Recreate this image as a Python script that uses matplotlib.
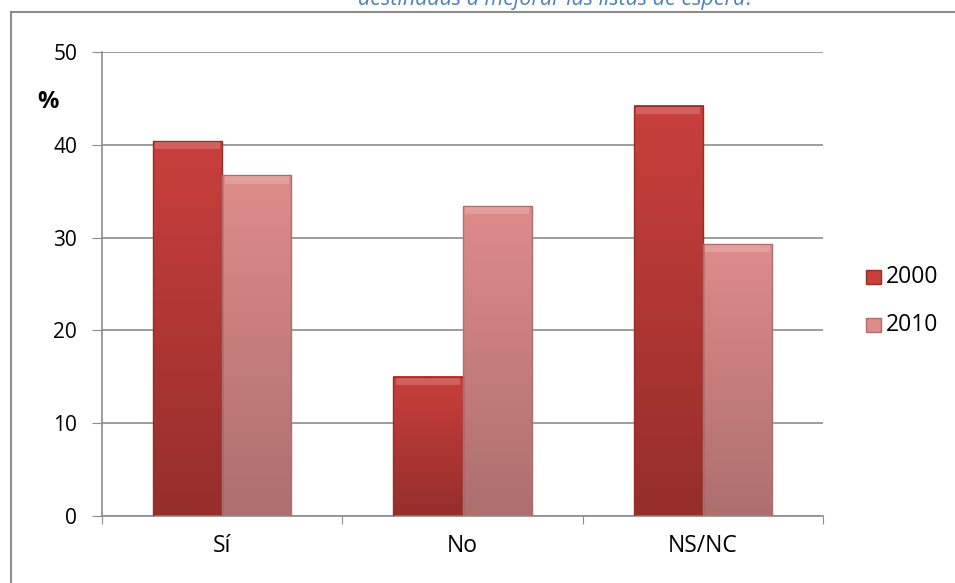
import numpy as np
import matplotlib.pyplot as plt
from matplotlib.patches import Rectangle
from matplotlib.colors import LinearSegmentedColormap

categories = ["Sí", "No", "NS/NC"]
years = ["2000", "2010"]
values_2000 = [40.4, 15.0, 44.2]
values_2010 = [36.7, 33.4, 29.3]

W, H = 955, 583
fig = plt.figure(figsize=(W / 100, H / 100), dpi=100)
plt.rcParams['font.family'] = ['Open Sans', 'DejaVu Sans']

# outer chart frame (cut at right and bottom like the screenshot)
fig.patches.append(Rectangle((11 / W, -0.1), 1.1, 1 - 12 / H + 0.1, transform=fig.transFigure,
                             fill=False, edgecolor="#8c8c8c", linewidth=1.5))

# title, only its lower half is visible
fig.text(556 / W, 1 - 5 / H, "destinadas a mejorar las listas de espera?", ha="center",
         va="baseline", fontsize=15.5, style="italic", color="#4f81bd")

ax = fig.add_axes([102 / W, 1 - 516 / H, (823 - 102) / W, (516 - 52) / H])
ax.set_xlim(0, 3)
ax.set_ylim(0, 50)
ax.set_yticks(range(0, 51, 10))
ax.set_xticks([0, 1, 2, 3])
ax.set_xticklabels([])
ax.set_xticks([0.5, 1.5, 2.5], minor=True)
ax.set_xticklabels(categories, minor=True, fontsize=16.5)
ax.tick_params(axis="x", which="minor", length=0, pad=13)
ax.tick_params(axis="x", which="major", length=6, color="#8c8c8c", direction="out")
ax.tick_params(axis="y", length=7, color="#8c8c8c", labelsize=15, pad=11)
for s in ["top", "right"]:
    ax.spines[s].set_visible(False)
for s in ["left", "bottom"]:
    ax.spines[s].set_color("#8c8c8c")
    ax.spines[s].set_linewidth(1.2)
ax.grid(axis="y", color="#8c8c8c", linewidth=1.2)
ax.set_axisbelow(True)

ax.text(-0.225, 44.6, "%", fontsize=17, fontweight="bold", ha="center", va="center")

bw = 0.2875
top_cols = {"2000": ("#c93f3c", "#952e2b"), "2010": ("#de8c8a", "#ad6f6e")}
for k, (yr, vals) in enumerate(zip(years, [values_2000, values_2010])):
    c_top, c_bot = top_cols[yr]
    cmap = LinearSegmentedColormap.from_list(yr, [c_bot, c_top])
    for i, v in enumerate(vals):
        x0 = i + 0.5 - bw + k * bw
        grad = np.linspace(0, 1, 100).reshape(-1, 1)
        ax.imshow(grad, extent=(x0, x0 + bw, 0, v), origin="lower", cmap=cmap,
                  aspect="auto", zorder=2)
        ax.add_patch(Rectangle((x0, 0), bw, v, fill=False, edgecolor=c_bot,
                               linewidth=1.0, zorder=3))
        # bevel highlight at the top
        ax.add_patch(Rectangle((x0 + 0.01, v - 0.9), bw - 0.02, 0.8,
                               facecolor="white", alpha=0.18, linewidth=0, zorder=3))
ax.set_xlim(0, 3)
ax.set_ylim(0, 50)

# legend
for j, yr in enumerate(years):
    c_top, c_bot = top_cols[yr]
    y = 277 + j * 48
    fig.patches.append(Rectangle((866 / W, 1 - (y + 7) / H), 15 / W, 14 / H,
                                 transform=fig.transFigure, facecolor=c_top,
                                 edgecolor=c_bot, linewidth=1))
    fig.text(886 / W, 1 - y / H, yr, fontsize=16.5, va="center", ha="left")

fig.savefig("out.png", dpi=100)
